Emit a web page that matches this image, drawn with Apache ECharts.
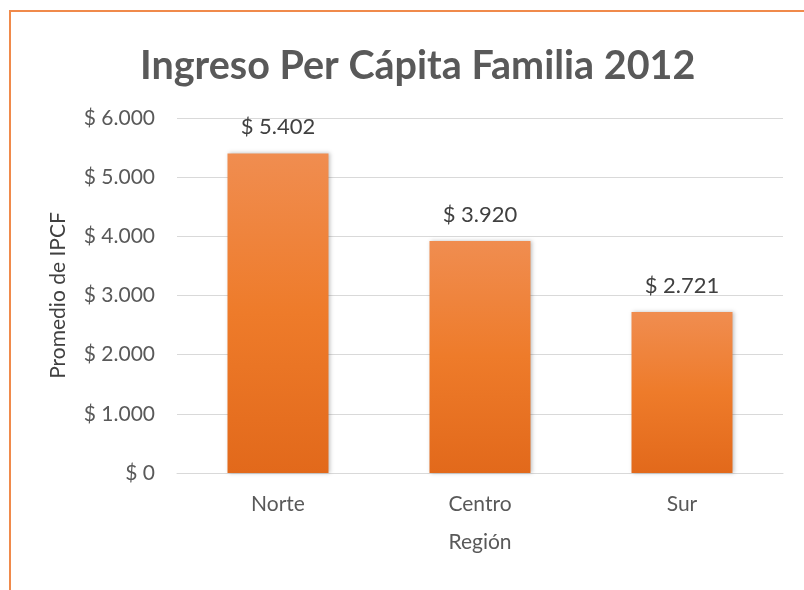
<!DOCTYPE html>
<html><head><meta charset="utf-8">
<script src="https://cdn.jsdelivr.net/npm/echarts@6/dist/echarts.min.js"></script>
<style>
html,body{margin:0;padding:0;background:#fff;overflow:hidden}
#frame{position:absolute;left:9px;top:10px;width:830px;height:590px;border:2px solid #F08A4B;box-sizing:border-box}
#c{position:absolute;left:0;top:0;width:804px;height:590px}
</style></head>
<body>
<div id="frame"></div>
<div id="c"></div>
<script>
var categories = ['Norte', 'Centro', 'Sur'];
var values = [5402, 3920, 2721];
var titleText = 'Ingreso Per Cápita Familia 2012';
var xName = 'Región';
var yName = 'Promedio de IPCF';

function fmt(v) {
  var s = String(Math.round(v));
  s = s.replace(/\B(?=(\d{3})+(?!\d))/g, '.');
  return '$ ' + s;
}
var FONT = 'Lato';
var chart = echarts.init(document.getElementById('c'), null, {renderer: 'canvas'});
chart.setOption({
  backgroundColor: 'transparent',
  animation: false,
  title: {
    text: titleText, left: 135, top: 41,
    textStyle: {fontFamily: FONT, fontSize: 39.5, fontWeight: 'bold', color: '#595959'}
  },
  grid: {left: 177, right: 21, top: 118, bottom: 117},
  xAxis: {
    type: 'category', data: categories,
    name: xName, nameLocation: 'middle', nameGap: 59,
    nameTextStyle: {fontFamily: FONT, fontSize: 21, color: '#595959'},
    axisLine: {show: true, lineStyle: {color: '#D9D9D9', width: 1}},
    axisTick: {show: false},
    axisLabel: {fontFamily: FONT, fontSize: 21, color: '#595959', margin: 21}
  },
  yAxis: {
    type: 'value', min: 0, max: 6000, interval: 1000,
    name: yName, nameLocation: 'middle', nameGap: 108, nameRotate: 90,
    nameTextStyle: {fontFamily: FONT, fontSize: 21, color: '#404040'},
    axisLine: {show: false}, axisTick: {show: false},
    splitLine: {lineStyle: {color: '#D9D9D9', width: 1}},
    axisLabel: {fontFamily: FONT, fontSize: 21, color: '#595959', margin: 22, formatter: fmt}
  },
  series: [{
    type: 'bar', data: values, barWidth: '50%',
    itemStyle: {
      color: new echarts.graphic.LinearGradient(0, 0, 0, 1, [
        {offset: 0, color: '#F08D50'},
        {offset: 0.5, color: '#EE7B2A'},
        {offset: 1, color: '#E2691B'}
      ]),
      shadowColor: 'rgba(0,0,0,0.25)', shadowBlur: 4, shadowOffsetX: 1, shadowOffsetY: 0
    },
    label: {
      show: true, position: 'top', distance: 15,
      fontFamily: FONT, fontSize: 22, color: '#404040', formatter: function (p) { return fmt(p.value); }
    }
  }]
});
</script>
</body></html>
